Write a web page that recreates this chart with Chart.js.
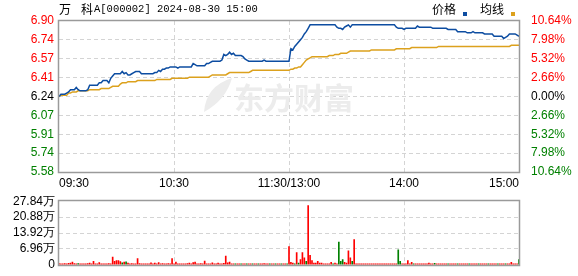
<!DOCTYPE html>
<html>
<head>
<meta charset="utf-8">
<script src="https://cdn.jsdelivr.net/npm/chart.js@4.4.1/dist/chart.umd.min.js"></script>
<style>
  body { margin: 0; background: #fff; }
  #wrap { position: relative; width: 578px; height: 276px; }
  canvas { position: absolute; left: 0; }
  #priceChart { top: 0; }
  #volChart { top: 190px; }
</style>
</head>
<body>
<div id="wrap">
  <canvas id="priceChart" width="578" height="190"></canvas>
  <canvas id="volChart" width="578" height="86"></canvas>
</div>
<script>
// 万科A 000002 分时 2024-08-30
const stockTitle = ['万', '科', 'A[000002] 2024-08-30 15:00'];
const prevClose = 6.24;
const priceMin = 5.576;
const priceMax = 6.904;
const priceTicks = ['6.90', '6.74', '6.57', '6.41', '6.24', '6.07', '5.91', '5.74', '5.58'];
const pctTicks = ['10.64%', '7.98%', '5.32%', '2.66%', '0.00%', '2.66%', '5.32%', '7.98%', '10.64%'];
const timeTickIdx = [0, 60, 120, 180, 240];
const timeLabels = ['09:30', '10:30', '11:30/13:00', '14:00', '15:00'];
const volTickVals = [0, 6.96, 13.92, 20.88, 27.84];
const volTicks = ['0', '6.96万', '13.92万', '20.88万', '27.84万'];

// 每分钟价格
const price = [
  6.24, 6.26, 6.26, 6.26, 6.27, 6.28, 6.30, 6.30, 6.30, 6.32,
  6.30, 6.29, 6.29, 6.29, 6.29, 6.30, 6.34, 6.34, 6.34, 6.34,
  6.34, 6.36, 6.36, 6.38, 6.38, 6.38, 6.36, 6.40, 6.42, 6.44,
  6.44, 6.44, 6.44, 6.46, 6.44, 6.45, 6.43, 6.43, 6.44, 6.45,
  6.46, 6.46, 6.46, 6.44, 6.44, 6.44, 6.44, 6.44, 6.44, 6.44,
  6.45, 6.45, 6.47, 6.46, 6.48, 6.48, 6.49, 6.49, 6.50, 6.50,
  6.50, 6.50, 6.49, 6.50, 6.50, 6.50, 6.50, 6.50, 6.50, 6.50,
  6.53, 6.52, 6.51, 6.51, 6.51, 6.51, 6.51, 6.53, 6.53, 6.54,
  6.55, 6.55, 6.55, 6.55, 6.55, 6.56, 6.61, 6.60, 6.61, 6.63,
  6.61, 6.62, 6.60, 6.60, 6.60, 6.60, 6.59, 6.57, 6.56, 6.55,
  6.55, 6.55, 6.55, 6.55, 6.55, 6.55, 6.55, 6.56, 6.55, 6.55,
  6.55, 6.55, 6.55, 6.55, 6.55, 6.55, 6.55, 6.55, 6.55, 6.55,
  6.55,
  6.66, 6.65, 6.68, 6.70, 6.72, 6.74, 6.76, 6.79, 6.81, 6.84,
  6.87, 6.87, 6.87, 6.87, 6.87, 6.87, 6.87, 6.87, 6.87, 6.87,
  6.87, 6.87, 6.87, 6.87, 6.85, 6.84, 6.84, 6.83, 6.85, 6.86,
  6.87, 6.85, 6.87, 6.87, 6.87, 6.87, 6.87, 6.87, 6.87, 6.87,
  6.87, 6.87, 6.87, 6.87, 6.87, 6.87, 6.87, 6.87, 6.87, 6.87,
  6.87, 6.87, 6.87, 6.87, 6.87, 6.85, 6.84, 6.84, 6.84, 6.83,
  6.84, 6.84, 6.84, 6.84, 6.84, 6.84, 6.86, 6.85, 6.85, 6.85,
  6.85, 6.85, 6.85, 6.85, 6.84, 6.84, 6.84, 6.84, 6.84, 6.84,
  6.84, 6.84, 6.83, 6.83, 6.83, 6.83, 6.83, 6.81, 6.81, 6.81,
  6.81, 6.81, 6.80, 6.80, 6.80, 6.81, 6.80, 6.80, 6.80, 6.80,
  6.80, 6.79, 6.79, 6.79, 6.79, 6.79, 6.77, 6.77, 6.77, 6.77,
  6.77, 6.75, 6.76, 6.77, 6.79, 6.79, 6.79, 6.79, 6.78, 6.77
];

// 均价
const avgPrice = [
  6.24, 6.25, 6.25, 6.25, 6.25, 6.27, 6.27, 6.28, 6.28, 6.28,
  6.29, 6.29, 6.29, 6.29, 6.29, 6.29, 6.30, 6.30, 6.30, 6.30,
  6.30, 6.30, 6.31, 6.31, 6.31, 6.31, 6.31, 6.32, 6.33, 6.33,
  6.33, 6.33, 6.35, 6.36, 6.36, 6.36, 6.37, 6.37, 6.37, 6.37,
  6.37, 6.38, 6.38, 6.38, 6.38, 6.38, 6.38, 6.38, 6.38, 6.38,
  6.38, 6.39, 6.39, 6.39, 6.39, 6.39, 6.39, 6.39, 6.39, 6.40,
  6.40, 6.40, 6.40, 6.40, 6.40, 6.40, 6.40, 6.40, 6.41, 6.41,
  6.41, 6.41, 6.41, 6.41, 6.41, 6.41, 6.41, 6.41, 6.41, 6.42,
  6.43, 6.43, 6.43, 6.43, 6.43, 6.43, 6.43, 6.43, 6.44, 6.45,
  6.45, 6.45, 6.45, 6.45, 6.45, 6.45, 6.45, 6.45, 6.45, 6.45,
  6.46, 6.47, 6.47, 6.47, 6.47, 6.47, 6.47, 6.47, 6.47, 6.47,
  6.47, 6.47, 6.47, 6.47, 6.47, 6.47, 6.47, 6.47, 6.47, 6.47,
  6.47,
  6.48, 6.48, 6.49, 6.49, 6.50, 6.50, 6.52, 6.54, 6.56, 6.57,
  6.58, 6.59, 6.59, 6.59, 6.59, 6.59, 6.59, 6.59, 6.59, 6.59,
  6.60, 6.60, 6.60, 6.61, 6.61, 6.61, 6.62, 6.62, 6.62, 6.62,
  6.63, 6.64, 6.64, 6.64, 6.64, 6.64, 6.64, 6.64, 6.64, 6.64,
  6.64, 6.64, 6.65, 6.65, 6.65, 6.65, 6.65, 6.65, 6.65, 6.65,
  6.65, 6.65, 6.65, 6.65, 6.65, 6.66, 6.66, 6.66, 6.66, 6.66,
  6.66, 6.66, 6.66, 6.67, 6.67, 6.67, 6.67, 6.67, 6.67, 6.67,
  6.67, 6.67, 6.67, 6.67, 6.67, 6.67, 6.67, 6.68, 6.68, 6.68,
  6.68, 6.68, 6.68, 6.68, 6.68, 6.68, 6.68, 6.68, 6.68, 6.68,
  6.68, 6.68, 6.68, 6.68, 6.68, 6.68, 6.68, 6.68, 6.68, 6.68,
  6.68, 6.68, 6.68, 6.68, 6.68, 6.68, 6.68, 6.68, 6.68, 6.68,
  6.68, 6.68, 6.68, 6.68, 6.68, 6.69, 6.69, 6.69, 6.69, 6.69
];

// 成交量（万手）
const volume = [
  0.5, 0.4, 0.4, 0.5, 0.4, 0.6, 0.8, 1.2, 0.5, 0.4,
  0.5, 0.3, 0.4, 0.3, 0.4, 0.5, 0.7, 0.4, 1.5, 0.4,
  0.4, 1.0, 0.4, 0.4, 0.3, 0.4, 0.5, 0.4, 3.4, 1.5,
  1.8, 1.8, 1.4, 0.9, 1.2, 1.3, 0.8, 0.4, 0.5, 0.4,
  0.4, 2.7, 0.5, 0.4, 0.4, 0.3, 0.4, 0.4, 0.9, 0.4,
  0.7, 0.4, 1.0, 0.4, 0.5, 0.4, 0.4, 0.5, 0.4, 2.7,
  0.4, 1.2, 0.4, 0.4, 0.4, 0.3, 0.4, 0.5, 0.7, 0.4,
  1.0, 1.2, 0.4, 0.4, 0.5, 0.4, 1.6, 0.4, 0.4, 0.4,
  0.9, 0.4, 0.4, 0.7, 0.4, 0.4, 0.6, 3.8, 0.9, 1.2,
  0.4, 0.3, 0.3, 0.4, 0.3, 0.3, 0.4, 0.3, 0.3, 0.4,
  0.3, 0.3, 0.4, 0.3, 0.3, 0.3, 0.4, 0.5, 0.3, 0.3,
  0.3, 0.4, 0.3, 0.3, 0.3, 0.3, 0.3, 0.4, 0.3, 0.3,
  8.0,
  1.1, 0.8, 0.3, 5.3, 0.8, 2.3, 5.3, 3.0, 1.5, 25.9,
  4.2, 1.9, 0.8, 0.8, 1.5, 0.8, 0.7, 0.4, 0.4, 0.4,
  0.4, 1.1, 0.4, 0.7, 0.4, 9.9, 1.5, 2.3, 1.1, 0.8,
  6.1, 3.0, 1.5, 11.0, 0.4, 0.3, 0.4, 0.3, 0.3, 0.4,
  0.3, 0.3, 0.4, 0.3, 0.3, 0.3, 0.3, 0.4, 0.3, 0.3,
  0.3, 0.3, 0.4, 0.3, 0.3, 0.4, 6.5, 1.5, 0.4, 0.4,
  0.3, 1.9, 0.4, 1.1, 0.4, 0.3, 0.3, 0.4, 0.3, 0.3,
  0.3, 0.3, 0.8, 0.3, 0.3, 0.6, 0.3, 0.3, 0.3, 0.3,
  0.3, 0.3, 0.4, 0.3, 0.3, 0.3, 0.3, 0.3, 0.4, 0.3,
  0.3, 0.3, 0.3, 0.3, 0.3, 0.3, 0.4, 0.3, 0.3, 0.3,
  0.3, 0.3, 0.3, 0.3, 0.3, 0.3, 0.3, 0.3, 0.3, 0.3,
  0.3, 0.3, 0.3, 0.3, 0.3, 1.1, 0.4, 0.4, 0.3, 2.3
];

// 下跌（绿柱）所在分钟
const downIdx = [10, 33, 35, 92, 95, 98, 101, 104, 110, 113, 116, 119, 123, 125, 129,
  143, 146, 147, 148, 153, 177, 178, 185, 196, 203, 208, 214, 219, 224, 229, 233, 240];

const minuteIdx = price.map((_, i) => i);

const RED = '#ff0000';
const GREEN = '#008000';
const GRID = '#d4d4d4';
const FRAME = '#9a9a9a';
const LEFT_W = 59;
const RIGHT_W = 59;

const pctColor = ctx => ctx.index < 4 ? RED : (ctx.index === 4 ? '#000' : GREEN);
const innerGrid = (n) => ctx => (ctx.index === 0 || ctx.index === n - 1) ? 'rgba(0,0,0,0)' : GRID;

// 边框 + 水印 + 标题
const framePlugin = {
  id: 'frame',
  beforeDatasetsDraw(chart) {
    if (chart.canvas.id !== 'priceChart') return;
    const ctx = chart.ctx;
    ctx.save();
    ctx.fillStyle = '#ececec';
    // 叶子标志
    ctx.beginPath();
    ctx.moveTo(204, 112);
    ctx.quadraticCurveTo(206, 86, 232, 78);
    ctx.quadraticCurveTo(226, 100, 204, 112);
    ctx.fill();
    ctx.font = 'bold 30px "Noto Sans CJK SC"';
    ctx.textBaseline = 'middle';
    ctx.fillText('东方财富', 234, 98);
    ctx.restore();
  },
  afterDraw(chart) {
    const { ctx, chartArea: a } = chart;
    ctx.save();
    ctx.strokeStyle = FRAME;
    ctx.lineWidth = 1.5;
    ctx.strokeRect(Math.round(a.left) - 0.5, Math.round(a.top) - 0.5,
      Math.round(a.right - a.left) + 1, Math.round(a.bottom - a.top) + 1);
    if (chart.canvas.id === 'priceChart') {
      ctx.fillStyle = '#000';
      ctx.textBaseline = 'middle';
      ctx.font = '12px "Noto Sans CJK SC"';
      ctx.fillText(stockTitle[0], 59, 9);
      ctx.fillText(stockTitle[1], 81, 9);
      ctx.font = '10.5px "Liberation Mono"';
      ctx.fillText(stockTitle[2], 94, 9);
      // 图例
      ctx.font = '12px "Noto Sans CJK SC"';
      let x = 432;
      chart.data.datasets.forEach(ds => {
        ctx.fillStyle = '#000';
        ctx.fillText(ds.label, x, 9);
        x += ctx.measureText(ds.label).width + 7;
        ctx.fillStyle = ds.borderColor;
        ctx.fillRect(x, 12, 4, 4);
        x += 17;
      });
    }
    ctx.restore();
  }
};

new Chart(document.getElementById('priceChart').getContext('2d'), {
  type: 'line',
  data: {
    labels: minuteIdx,
    datasets: [
      { label: '价格', data: price, borderColor: '#0d4da1', borderWidth: 1.5, pointRadius: 0, tension: 0 },
      { label: '均线', data: avgPrice, borderColor: '#dca11d', borderWidth: 1.5, pointRadius: 0, tension: 0 }
    ]
  },
  options: {
    responsive: false,
    animation: false,
    layout: { padding: { top: 21, left: 0, right: 0, bottom: 0 } },
    plugins: { legend: { display: false }, tooltip: { enabled: false } },
    scales: {
      x: {
        type: 'category',
        offset: false,
        afterBuildTicks: s => { s.ticks = timeTickIdx.map(v => ({ value: v })); },
        afterFit: s => { s.height = 18; },
        grid: { color: innerGrid(timeTickIdx.length), drawTicks: false, offset: false },
        border: { display: false, dash: [4, 3] },
        ticks: {
          autoSkip: false, maxRotation: 0, align: 'inner', padding: 4,
          color: '#000', font: { family: 'Liberation Sans', size: 12 },
          callback: (v, i) => timeLabels[i]
        }
      },
      y: {
        position: 'left',
        min: priceMin, max: priceMax,
        afterBuildTicks: s => { s.ticks = priceTicks.map((t, i) => ({ value: priceMax - i * (priceMax - priceMin) / 8 })); },
        afterFit: s => { s.width = LEFT_W; },
        grid: { color: innerGrid(priceTicks.length), drawTicks: false },
        border: { display: false, dash: [4, 3] },
        ticks: {
          autoSkip: false, padding: 5, color: pctColor,
          font: { family: 'Liberation Sans', size: 12 },
          callback: (v, i) => priceTicks[i]
        }
      },
      y1: {
        position: 'right',
        min: priceMin, max: priceMax,
        afterBuildTicks: s => { s.ticks = pctTicks.map((t, i) => ({ value: priceMax - i * (priceMax - priceMin) / 8 })); },
        afterFit: s => { s.width = RIGHT_W; },
        grid: { display: false },
        border: { display: false },
        ticks: {
          autoSkip: false, padding: 4, color: pctColor,
          font: { family: 'Liberation Sans', size: 12 },
          callback: (v, i) => pctTicks[i]
        }
      }
    }
  },
  plugins: [framePlugin]
});

new Chart(document.getElementById('volChart').getContext('2d'), {
  type: 'bar',
  data: {
    labels: minuteIdx,
    datasets: [{
      label: '成交量',
      data: volume,
      backgroundColor: volume.map((_, i) => downIdx.includes(i) ? GREEN : RED),
      barThickness: 1,
      minBarLength: 1
    }]
  },
  options: {
    responsive: false,
    animation: false,
    layout: { padding: { top: 7, left: 0, right: RIGHT_W, bottom: 6 } },
    plugins: { legend: { display: false }, tooltip: { enabled: false } },
    scales: {
      x: {
        type: 'category',
        offset: false,
        afterBuildTicks: s => { s.ticks = timeTickIdx.map(v => ({ value: v })); },
        grid: { color: innerGrid(timeTickIdx.length), drawTicks: false, offset: false },
        border: { display: false, dash: [4, 3] },
        ticks: { display: false }
      },
      y: {
        min: 0, max: volTickVals[volTickVals.length - 1],
        afterBuildTicks: s => { s.ticks = volTickVals.map(v => ({ value: v })); },
        afterFit: s => { s.width = LEFT_W; },
        grid: { color: innerGrid(volTickVals.length), drawTicks: false },
        border: { display: false, dash: [4, 3] },
        ticks: {
          autoSkip: false, padding: 4, color: '#000',
          font: { family: 'Liberation Sans', size: 12 },
          callback: (v, i) => volTicks[i]
        }
      }
    }
  },
  plugins: [framePlugin]
});
</script>
</body>
</html>
